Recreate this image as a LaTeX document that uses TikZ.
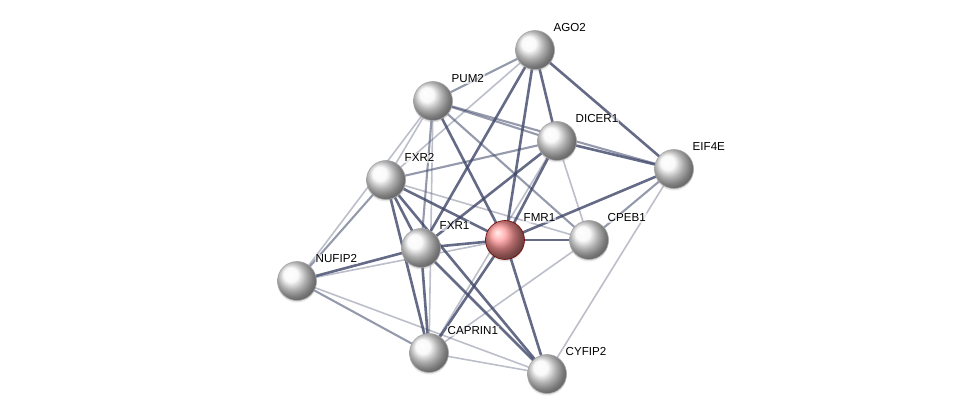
\documentclass[tikz,border=0pt]{standalone}
\usepackage{fontspec}
\setmainfont{Liberation Sans}
\usepackage{tikz}
\usetikzlibrary{positioning,backgrounds,shadows}

\definecolor{edgecol}{RGB}{62,70,104}
\definecolor{seedred}{RGB}{255,150,150}

\begin{document}
\begin{tikzpicture}[
  x=1pt, y=1pt,
  prot/.style={circle, minimum size=39pt, inner sep=0pt, shading=ball,
               ball color=gray!6, draw=gray!70, line width=0.6pt,
               drop shadow={shadow xshift=0pt, shadow yshift=-2pt, opacity=0.2}},
  seed/.style={prot, ball color=seedred, draw=red!45!black},
  lbl/.style={font=\fontsize{11.6}{13}\selectfont, inner sep=1pt,
              fill=white, fill opacity=0.6, text opacity=1},
  strong/.style={draw=edgecol, line width=2.6pt, opacity=0.8},
  mid/.style={draw=edgecol, line width=2.1pt, opacity=0.55},
  weak/.style={draw=edgecol, line width=1.6pt, opacity=0.35}
]
\useasboundingbox (0,0) rectangle (975,-419);

\node[prot] (ago2) at (535,-50) {};
\node[prot] (pum2) at (433,-101) {};
\node[prot] (dicer1) at (557,-141) {};
\node[prot] (eif4e) at (674,-169) {};
\node[prot] (fxr2) at (386,-180) {};
\node[prot] (fxr1) at (421,-248) {};
\node[seed] (fmr1) at (505,-240) {};
\node[prot] (cpeb1) at (589,-240) {};
\node[prot] (nufip2) at (297,-281) {};
\node[prot] (caprin1) at (429,-353) {};
\node[prot] (cyfip2) at (547,-374) {};

\node[lbl, above right=3pt and 3.5pt of ago2] (ago2-l) {AGO2};
\node[lbl, above right=3pt and 3.5pt of pum2] (pum2-l) {PUM2};
\node[lbl, above right=3pt and 3.5pt of dicer1] (dicer1-l) {DICER1};
\node[lbl, above right=3pt and 3.5pt of eif4e] (eif4e-l) {EIF4E};
\node[lbl, above right=3pt and 3.5pt of fxr2] (fxr2-l) {FXR2};
\node[lbl, above right=3pt and 3.5pt of fxr1] (fxr1-l) {FXR1};
\node[lbl, above right=3pt and 3.5pt of fmr1] (fmr1-l) {FMR1};
\node[lbl, above right=3pt and 3.5pt of cpeb1] (cpeb1-l) {CPEB1};
\node[lbl, above right=3pt and 3.5pt of nufip2] (nufip2-l) {NUFIP2};
\node[lbl, above right=3pt and 3.5pt of caprin1] (caprin1-l) {CAPRIN1};
\node[lbl, above right=3pt and 3.5pt of cyfip2] (cyfip2-l) {CYFIP2};

% interactions, behind the proteins
\begin{pgfonlayer}{background}
\foreach \a/\b in {pum2/fxr2, pum2/nufip2, pum2/caprin1, ago2/fxr2,
                   dicer1/cpeb1, dicer1/caprin1, fxr2/cpeb1, nufip2/fmr1,
                   nufip2/cyfip2, caprin1/cyfip2, caprin1/cpeb1, eif4e/cyfip2}
  \draw[weak] (\a.center) -- (\b.center);
\foreach \a/\b in {ago2/pum2, pum2/dicer1, pum2/eif4e, pum2/cpeb1, pum2/fxr1,
                   dicer1/fxr2, cpeb1/eif4e, nufip2/fxr2, nufip2/caprin1}
  \draw[mid] (\a.center) -- (\b.center);
\foreach \a/\b in {ago2/fxr1, ago2/fmr1, ago2/dicer1, ago2/eif4e,
                   dicer1/fmr1, dicer1/fxr1, dicer1/eif4e, pum2/fmr1,
                   fmr1/eif4e, fmr1/cpeb1, fmr1/fxr1, fmr1/fxr2,
                   fmr1/caprin1, fmr1/cyfip2, fxr2/fxr1, fxr2/caprin1,
                   fxr2/cyfip2, fxr1/caprin1, fxr1/cyfip2, fxr1/nufip2}
  \draw[strong] (\a.center) -- (\b.center);
\end{pgfonlayer}
\end{tikzpicture}
\end{document}
